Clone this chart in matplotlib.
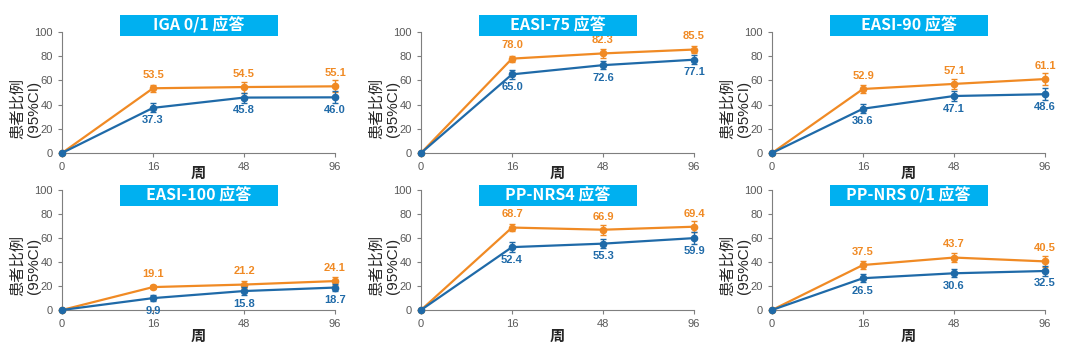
import matplotlib
matplotlib.use("Agg")
import matplotlib.pyplot as plt
from matplotlib.patches import Rectangle

plt.rcParams['font.family'] = ['Noto Sans CJK SC', 'DejaVu Sans']

weeks = ["0", "16", "48", "96"]
titles = ["IGA 0/1 应答", "EASI-75 应答", "EASI-90 应答",
          "EASI-100 应答", "PP-NRS4 应答", "PP-NRS 0/1 应答"]

orange_vals = [
    [0, 53.5, 54.5, 55.1],
    [0, 78.0, 82.3, 85.5],
    [0, 52.9, 57.1, 61.1],
    [0, 19.1, 21.2, 24.1],
    [0, 68.7, 66.9, 69.4],
    [0, 37.5, 43.7, 40.5],
]
blue_vals = [
    [0, 37.3, 45.8, 46.0],
    [0, 65.0, 72.6, 77.1],
    [0, 36.6, 47.1, 48.6],
    [0, 9.9, 15.8, 18.7],
    [0, 52.4, 55.3, 59.9],
    [0, 26.5, 30.6, 32.5],
]
orange_err = [
    [0, 2.8, 4.5, 5.0],
    [0, 2.5, 3.5, 3.2],
    [0, 3.0, 4.0, 5.0],
    [0, 2.0, 3.0, 3.5],
    [0, 3.0, 4.0, 4.8],
    [0, 3.0, 3.8, 4.8],
]
blue_err = [
    [0, 3.8, 4.2, 5.0],
    [0, 3.8, 3.5, 3.8],
    [0, 3.8, 4.5, 5.0],
    [0, 2.5, 3.0, 3.2],
    [0, 4.0, 4.0, 5.0],
    [0, 3.5, 3.5, 4.5],
]

ORANGE = "#F08A24"
BLUE = "#1F6AA8"
BOXBLUE = "#00B0F0"
GREY = "#595959"
NUMFONT = ['Liberation Sans', 'DejaVu Sans']

W, H = 1080, 351
fig = plt.figure(figsize=(W / 100, H / 100), dpi=100)

lefts = [62, 421, 772]
width_px = 273
rows = [(32, 153), (190, 310)]
box_centers_y = [25.5, 195.5]
xlab_y = [173, 336]

for i in range(6):
    r, c = divmod(i, 3)
    top, bot = rows[r]
    ax = fig.add_axes([lefts[c] / W, 1 - bot / H, width_px / W, (bot - top) / H])
    x = list(range(len(weeks)))
    ax.errorbar(x, orange_vals[i], yerr=orange_err[i], color=ORANGE, lw=1.6,
                marker='o', ms=4.5, capsize=2.5, elinewidth=1.0, capthick=1.0,
                zorder=3, clip_on=False)
    ax.errorbar(x, blue_vals[i], yerr=blue_err[i], color=BLUE, lw=1.6,
                marker='o', ms=4.5, capsize=2.5, elinewidth=1.0, capthick=1.0,
                zorder=4, clip_on=False)
    for j in range(1, 4):
        ax.annotate(f"{orange_vals[i][j]:.1f}", (x[j], orange_vals[i][j]),
                    xytext=(0, 9.5), textcoords='offset points', ha='center',
                    va='center', color=ORANGE, fontsize=8, fontweight='bold',
                    family=NUMFONT)
        ax.annotate(f"{blue_vals[i][j]:.1f}", (x[j], blue_vals[i][j]),
                    xytext=(0, -9), textcoords='offset points', ha='center',
                    va='center', color=BLUE, fontsize=8, fontweight='bold',
                    family=NUMFONT)
    ax.set_xlim(0, 3)
    ax.set_ylim(0, 100)
    ax.set_xticks(x)
    ax.set_xticklabels(weeks)
    ax.set_yticks([0, 20, 40, 60, 80, 100])
    for s in ['top', 'right']:
        ax.spines[s].set_visible(False)
    for s in ['left', 'bottom']:
        ax.spines[s].set_color("#7f7f7f")
        ax.spines[s].set_linewidth(0.8)
    ax.tick_params(colors="#7f7f7f", labelcolor=GREY, labelsize=8, length=3,
                   width=0.8)
    for lab in ax.get_xticklabels() + ax.get_yticklabels():
        lab.set_family(NUMFONT)

    # title box
    cx = lefts[c] + width_px / 2
    cy = box_centers_y[r]
    bw, bh = 158, 21
    fig.patches.append(Rectangle(((cx - bw / 2) / W, 1 - (cy + bh / 2) / H),
                                 bw / W, bh / H, transform=fig.transFigure,
                                 facecolor=BOXBLUE, edgecolor='none', zorder=5))
    fig.text(cx / W, 1 - cy / H, titles[i], ha='center', va='center',
             color='white', fontsize=11.5, fontweight='bold', zorder=6)

    # y label
    yc = (top + bot) / 2 + 16
    fig.text((lefts[c] - 45) / W, 1 - yc / H, "患者比例", rotation=90,
             ha='center', va='center', fontsize=11, color='#262626')
    fig.text((lefts[c] - 28) / W, 1 - yc / H, "(95%CI)", rotation=90,
             ha='center', va='center', fontsize=11, color='#262626',
             family=NUMFONT)
    # x label
    fig.text(cx / W, 1 - xlab_y[r] / H, "周", ha='center', va='center',
             fontsize=11, fontweight='bold', color='#262626')

fig.savefig("out.png", dpi=100)
